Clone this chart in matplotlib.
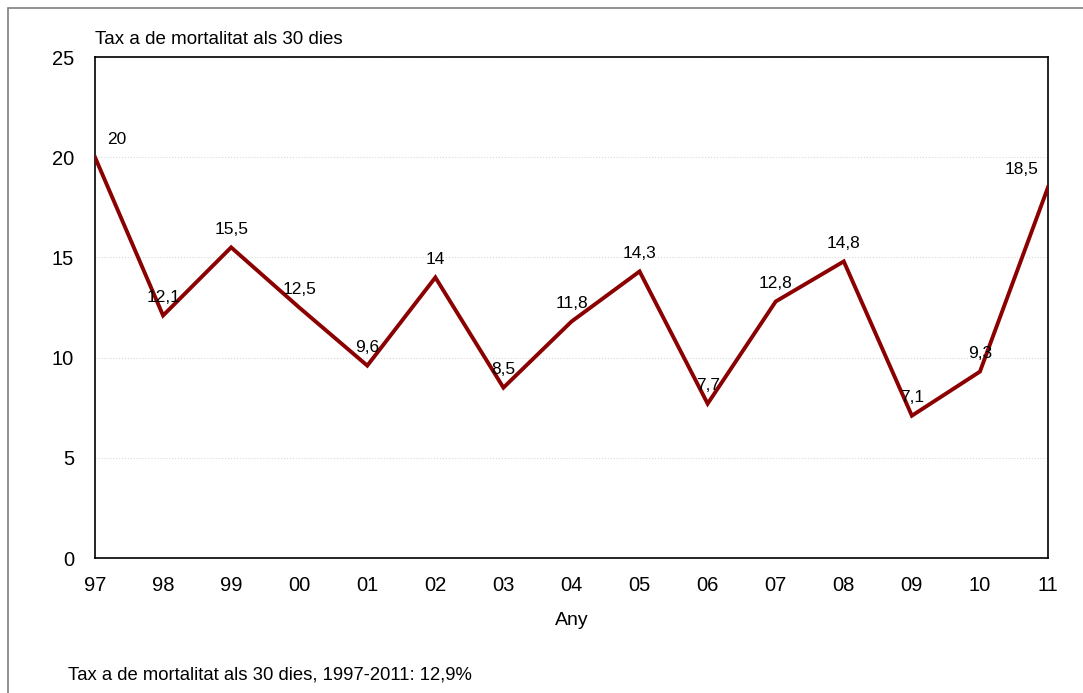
# Taxa de mortalitat als 30 dies, 1997-2011
import matplotlib
matplotlib.use('Agg')
import matplotlib.pyplot as plt
import matplotlib.patches as patches

plt.rcParams['font.family'] = ['Liberation Sans', 'DejaVu Sans']

years = ['97', '98', '99', '00', '01', '02', '03', '04', '05', '06', '07', '08', '09', '10', '11']
rates = [20, 12.1, 15.5, 12.5, 9.6, 14, 8.5, 11.8, 14.3, 7.7, 12.8, 14.8, 7.1, 9.3, 18.5]
yticks = [0, 5, 10, 15, 20, 25]

W, H = 1083, 693
fig = plt.figure(figsize=(W / 100, H / 100), dpi=100)
ax = fig.add_axes([95 / W, 1 - 558 / H, (1048 - 95) / W, (558 - 57) / H])

# marc exterior
fig.patches.append(patches.Rectangle((8 / W, -0.1), 1.2, 1 - 8 / H + 0.1, transform=fig.transFigure,
                                     fill=False, ec='#7f7f7f', lw=1.2))

x = list(range(len(years)))
ax.plot(x, rates, color='#8b0000', lw=2.8, solid_joinstyle='miter', zorder=3)

for i, v in enumerate(rates):
    dx = 0
    if i == 0:
        dx = 16
    elif i == len(rates) - 1:
        dx = -19
    ax.annotate(('%g' % v).replace('.', ','), xy=(i, v), xytext=(dx, 13), textcoords='offset points',
                ha='center', va='center', fontsize=12.5, color='black')

ax.set_xlim(0, len(years) - 1)
ax.set_ylim(0, 25)
ax.set_xticks(x)
ax.set_xticklabels(years)
ax.set_yticks(yticks)
ax.tick_params(length=0, labelsize=14.5)
ax.tick_params(axis='y', pad=15)
ax.tick_params(axis='x', pad=13)
ax.grid(True, axis='y', color='#d9d9d9', lw=0.8, ls=':')
ax.set_axisbelow(True)
for s in ax.spines.values():
    s.set_color('black')
    s.set_linewidth(1.2)

ax.set_xlabel('Any', fontsize=14, labelpad=12)
fig.text(95 / W, 1 - 39 / H, 'Tax a de mortalitat als 30 dies', fontsize=13.5, ha='left', va='center')
fig.text(68 / W, 1 - 675 / H, 'Tax a de mortalitat als 30 dies, 1997-2011: 12,9%', fontsize=13.3,
         ha='left', va='center')

fig.savefig('out.png', dpi=100, facecolor='white')
